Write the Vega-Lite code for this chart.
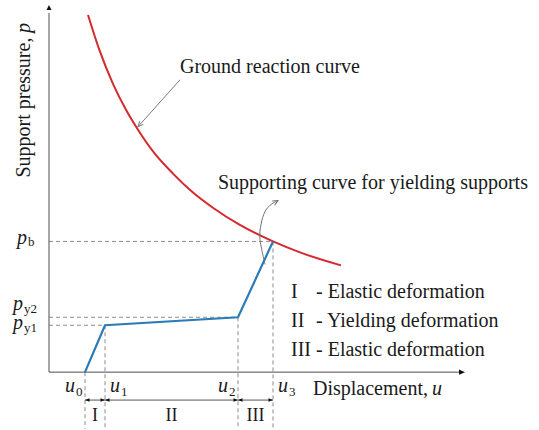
{
  "$schema": "https://vega.github.io/schema/vega-lite/v6.json",
  "width": 539,
  "height": 430,
  "padding": 0,
  "autosize": {"type": "fit", "contains": "padding"},
  "background": "white",
  "view": {"stroke": null},
  "config": {"text": {"font": "Liberation Serif", "color": "#1a1a1a"}},
  "datasets": {
    "ground": [
      {"u": 39, "p": 358}, {"u": 50, "p": 324}, {"u": 64, "p": 289}, {"u": 77, "p": 263},
      {"u": 89, "p": 243}, {"u": 105, "p": 220}, {"u": 124, "p": 199}, {"u": 144, "p": 180},
      {"u": 165, "p": 164}, {"u": 190, "p": 148}, {"u": 224, "p": 131}, {"u": 251, "p": 120},
      {"u": 292, "p": 107}
    ],
    "support": [
      {"u": 36, "p": 0}, {"u": 56, "p": 47}, {"u": 189, "p": 55}, {"u": 224, "p": 131}
    ],
    "guides": [
      {"u": 0, "p": 131, "u2": 224, "p2": 131},
      {"u": 0, "p": 55, "u2": 189, "p2": 55},
      {"u": 0, "p": 47, "u2": 56, "p2": 47},
      {"u": 36, "p": 0, "u2": 36, "p2": -57},
      {"u": 56, "p": 47, "u2": 56, "p2": -57},
      {"u": 189, "p": 55, "u2": 189, "p2": -57},
      {"u": 224, "p": 131, "u2": 224, "p2": -57}
    ],
    "axes": [
      {"u": 0, "p": 0, "u2": 410, "p2": 0},
      {"u": 0, "p": 0, "u2": 0, "p2": 360}
    ],
    "stages": [
      {"u": 36, "side": "left"}, {"u": 56, "side": "right"},
      {"u": 56, "side": "left"}, {"u": 189, "side": "right"},
      {"u": 189, "side": "left"}, {"u": 224, "side": "right"}
    ],
    "pointer": [{"u": 131, "p": 293}, {"u": 89, "p": 246}],
    "bend": [
      {"k": 0, "u": 216, "p": 108}, {"k": 1, "u": 211, "p": 133}, {"k": 2, "u": 212, "p": 148},
      {"k": 3, "u": 216, "p": 161}, {"k": 4, "u": 222, "p": 168}, {"k": 5, "u": 229, "p": 172}
    ],
    "labels": [
      {"text": "Ground reaction curve", "u": 131, "p": 300},
      {"text": "Supporting curve for yielding supports", "u": 169, "p": 184},
      {"text": "Displacement,", "u": 264, "p": -23},
      {"text": "I", "u": 242, "p": 74},
      {"text": "II", "u": 242, "p": 45},
      {"text": "III", "u": 242, "p": 16},
      {"text": "- Elastic deformation", "u": 267, "p": 74},
      {"text": "- Yielding deformation", "u": 267, "p": 45},
      {"text": "- Elastic deformation", "u": 267, "p": 16}
    ],
    "symbols": [
      {"text": "u", "u": 16, "p": -20},
      {"text": "u", "u": 61, "p": -20},
      {"text": "u", "u": 169, "p": -20},
      {"text": "u", "u": 229, "p": -20},
      {"text": "u", "u": 383, "p": -23},
      {"text": "p", "u": -32, "p": 128},
      {"text": "p", "u": -36, "p": 62},
      {"text": "p", "u": -36, "p": 43}
    ],
    "subscripts": [
      {"text": "0", "u": 27, "p": -24},
      {"text": "1", "u": 72, "p": -24},
      {"text": "2", "u": 180, "p": -24},
      {"text": "3", "u": 240, "p": -24},
      {"text": "b", "u": -21, "p": 126},
      {"text": "y2", "u": -25, "p": 59},
      {"text": "y1", "u": -25, "p": 40}
    ],
    "stageNames": [
      {"text": "I", "u": 46, "p": -49},
      {"text": "II", "u": 122.5, "p": -49},
      {"text": "III", "u": 206.5, "p": -49}
    ]
  },
  "encoding": {
    "x": {"field": "u", "type": "quantitative", "scale": {"domain": [-49, 490], "nice": false, "zero": false}, "axis": null},
    "y": {"field": "p", "type": "quantitative", "scale": {"domain": [-57, 373], "nice": false, "zero": false}, "axis": null}
  },
  "layer": [
    {
      "data": {"name": "guides"},
      "mark": {"type": "rule", "color": "#8c8c8c", "strokeWidth": 1, "strokeDash": [4, 3]},
      "encoding": {"x2": {"field": "u2"}, "y2": {"field": "p2"}}
    },
    {
      "data": {"name": "axes"},
      "mark": {"type": "rule", "color": "#4d4d4d", "strokeWidth": 1},
      "encoding": {"x2": {"field": "u2"}, "y2": {"field": "p2"}}
    },
    {
      "data": {"values": [{"u": 416, "p": 0}]},
      "mark": {"type": "point", "shape": "M0,0L-2,-0.85L-2,0.85Z", "size": 36, "filled": true, "color": "#111", "opacity": 1}
    },
    {
      "data": {"values": [{"u": 0, "p": 368}]},
      "mark": {"type": "point", "shape": "M0,0L-1,2L1,2Z", "size": 25, "filled": true, "color": "#111", "opacity": 1}
    },
    {
      "data": {"values": [{"u": 36, "p": -28, "u2": 224, "p2": -28}]},
      "mark": {"type": "rule", "color": "#555", "strokeWidth": 1},
      "encoding": {"x2": {"field": "u2"}, "y2": {"field": "p2"}}
    },
    {
      "data": {"name": "stages"},
      "transform": [{"filter": "datum.side === 'right'"}, {"calculate": "-28", "as": "p"}],
      "mark": {"type": "point", "shape": "M0,0L-2,-0.8L-2,0.8Z", "size": 20, "filled": true, "color": "#111", "opacity": 1}
    },
    {
      "data": {"name": "stages"},
      "transform": [{"filter": "datum.side === 'left'"}, {"calculate": "-28", "as": "p"}],
      "mark": {"type": "point", "shape": "M0,0L2,-0.8L2,0.8Z", "size": 20, "filled": true, "color": "#111", "opacity": 1}
    },
    {
      "data": {"name": "ground"},
      "mark": {"type": "line", "color": "#d42a2e", "strokeWidth": 2, "interpolate": "monotone"}
    },
    {
      "data": {"name": "support"},
      "mark": {"type": "line", "color": "#2b7bb9", "strokeWidth": 2.2}
    },
    {
      "data": {"name": "pointer"},
      "mark": {"type": "line", "color": "#7a7a7a", "strokeWidth": 1},
      "encoding": {"order": {"field": "p"}}
    },
    {
      "data": {"values": [{"u": 89, "p": 246}]},
      "mark": {"type": "point", "shape": "M-2,-0.9L0,0L-2,0.9", "size": 28, "filled": false, "color": "#7a7a7a", "strokeWidth": 1, "angle": 132, "opacity": 1}
    },
    {
      "data": {"name": "bend"},
      "mark": {"type": "line", "color": "#6e6e6e", "strokeWidth": 1, "interpolate": "cardinal"},
      "encoding": {"order": {"field": "k"}}
    },
    {
      "data": {"values": [{"u": 229, "p": 172}]},
      "mark": {"type": "point", "shape": "M-2,-0.9L0,0L-2,0.9", "size": 28, "filled": false, "color": "#6e6e6e", "strokeWidth": 1, "angle": -30, "opacity": 1}
    },
    {
      "data": {"name": "labels"},
      "mark": {"type": "text", "fontSize": 20, "align": "left", "baseline": "alphabetic"},
      "encoding": {"text": {"field": "text"}}
    },
    {
      "data": {"name": "symbols"},
      "mark": {"type": "text", "fontSize": 20, "fontStyle": "italic", "align": "left", "baseline": "alphabetic"},
      "encoding": {"text": {"field": "text"}}
    },
    {
      "data": {"name": "subscripts"},
      "mark": {"type": "text", "fontSize": 13, "align": "left", "baseline": "alphabetic"},
      "encoding": {"text": {"field": "text"}}
    },
    {
      "data": {"name": "stageNames"},
      "mark": {"type": "text", "fontSize": 18, "align": "center", "baseline": "alphabetic"},
      "encoding": {"text": {"field": "text"}}
    },
    {
      "data": {"values": [{"text": "Support pressure,", "u": -19, "p": 195}]},
      "mark": {"type": "text", "fontSize": 20, "angle": 270, "align": "left", "baseline": "alphabetic"},
      "encoding": {"text": {"field": "text"}}
    },
    {
      "data": {"values": [{"text": "p", "u": -19, "p": 340}]},
      "mark": {"type": "text", "fontSize": 20, "fontStyle": "italic", "angle": 270, "align": "left", "baseline": "alphabetic"},
      "encoding": {"text": {"field": "text"}}
    }
  ]
}
